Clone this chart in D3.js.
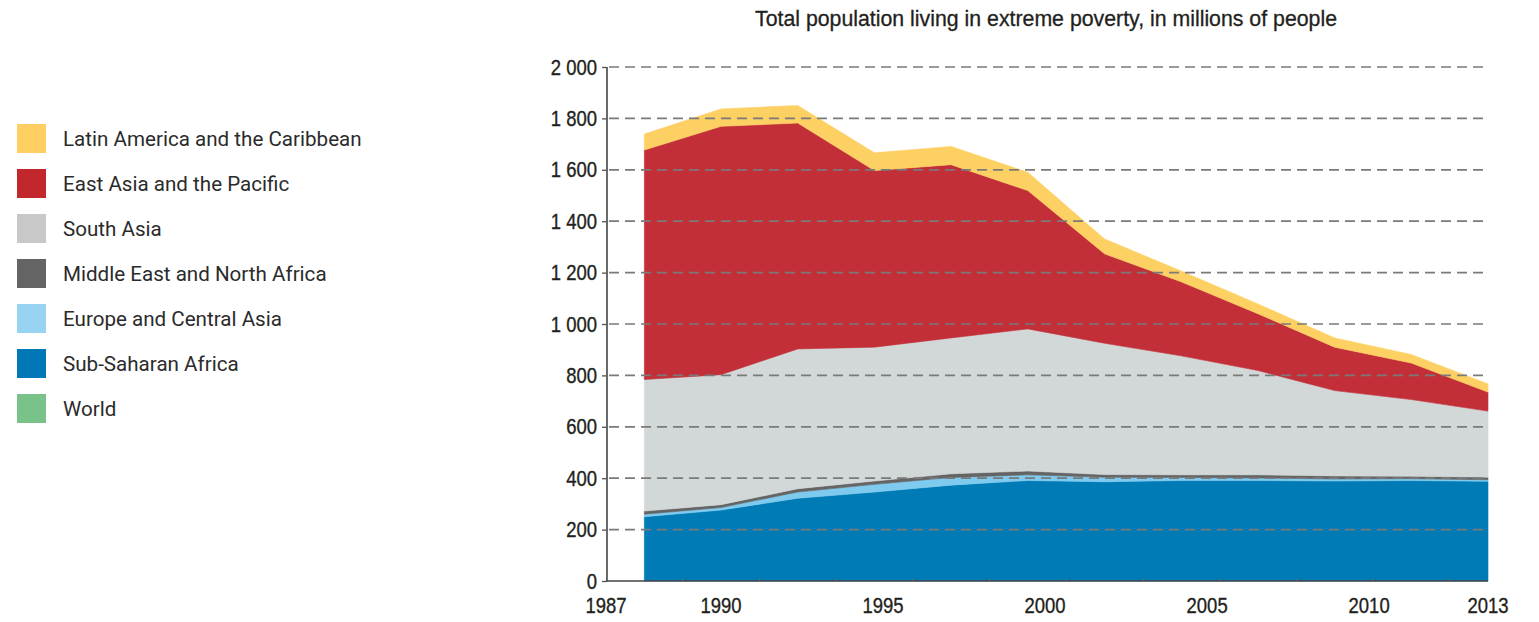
<!DOCTYPE html>
<html>
<head>
<meta charset="utf-8">
<script src="https://cdn.jsdelivr.net/npm/d3@7"></script>
<style>
  html, body { margin: 0; padding: 0; background: #ffffff; }
  svg { display: block; }
</style>
</head>
<body>
<svg id="chart" width="1539" height="622"></svg>
<script>
// ---- data ----
const years = [1987, 1990, 1993, 1996, 1999, 2002, 2005, 2008, 2010, 2011, 2012, 2013];
const subSaharanAfrica   = [250, 276, 322, 346, 373, 391, 386, 391, 391, 389, 391, 388];
const europeCentralAsia  = [10, 10, 24, 30, 30, 22, 18, 12, 10, 8, 7, 6];
const middleEastNAfrica  = [12, 11, 13, 13, 14, 15, 10, 10, 12, 12, 10, 10];
const southAsia          = [512, 506, 544, 521, 529, 553, 511, 463, 406, 332, 298, 257];
const eastAsiaPacific    = [893, 966, 879, 687, 674, 538, 348, 288, 221, 169, 142, 74];
const latinAmerica       = [62, 68, 68, 69, 71, 71, 58, 42, 38, 36, 33, 32];
const yTicks = [0, 200, 400, 600, 800, 1000, 1200, 1400, 1600, 1800, 2000];
const xTickLabels = [1987, 1990, 1995, 2000, 2005, 2010, 2013];
const legendItems = ["Latin America and the Caribbean", "East Asia and the Pacific", "South Asia",
  "Middle East and North Africa", "Europe and Central Asia", "Sub-Saharan Africa", "World"];
const legendColors = ["#FFD061", "#C3272E", "#C8C8C8", "#646464", "#98D3F1", "#0077B6", "#79C28A"];
const titleText = "Total population living in extreme poverty, in millions of people";

(function () {
const svg = d3.select("#chart");
const mLeft = 606, mRight = 1488, mTop = 67, mBottom = 581;
const NARROW = "'Liberation Sans', Arial, sans-serif";
const SX = 0.86;

const xi = d3.scaleLinear().domain([-0.5, years.length - 1]).range([mLeft, mRight]);
const y = d3.scaleLinear().domain([0, 2000]).range([mBottom, mTop]);
// label placement scale (labels are not aligned with data points in the original)
const xLabel = d3.scaleLinear().domain([1987, 1990, 2010, 2013])
  .range([xi(-0.5), xi(1), xi(9.45), xi(years.length - 1)]);

const keys = ["ssa", "eca", "mena", "sa", "eap", "lac"];
const areaColors = {ssa: "#007BB6", eca: "#7FCBEF", mena: "#646464", sa: "#D2D7D7", eap: "#C22F38", lac: "#FDD063"};
const table = years.map((yr, i) => ({
  i, year: yr,
  ssa: subSaharanAfrica[i], eca: europeCentralAsia[i], mena: middleEastNAfrica[i],
  sa: southAsia[i], eap: eastAsiaPacific[i], lac: latinAmerica[i]
}));
const series = d3.stack().keys(keys)(table);

const area = d3.area()
  .x(d => xi(d.data.i))
  .y0(d => y(d[0]))
  .y1(d => y(d[1]));

svg.append("g").selectAll("path").data(series).join("path")
  .attr("d", area)
  .attr("fill", d => areaColors[d.key])
  .attr("stroke", d => areaColors[d.key])
  .attr("stroke-width", 0.6);

// gridlines (dashed, on top)
svg.append("g").selectAll("line").data(yTicks.filter(t => t > 0)).join("line")
  .attr("x1", mLeft + 3).attr("x2", mRight)
  .attr("y1", d => y(d)).attr("y2", d => y(d))
  .attr("stroke", "#7A7A7A").attr("stroke-width", 1.7)
  .attr("stroke-dasharray", "10,6");

// y axis
const yAxis = d3.axisLeft(y).tickValues(yTicks).tickSize(5).tickPadding(5)
  .tickFormat(() => "");
const gy = svg.append("g").attr("transform", `translate(${mLeft + 1},0)`).call(yAxis);
gy.select(".domain").attr("stroke", "#444").attr("stroke-width", 1.6).attr("d", `M0,${mTop}V${mBottom}`);
gy.selectAll(".tick line").attr("stroke", "#555").attr("stroke-width", 1.3);

const fmt = d => d3.format(",")(d).replace(",", " ");
svg.append("g").selectAll("text").data(yTicks).join("text")
  .attr("transform", d => `translate(597,${y(d) + 7.5}) scale(${SX},1)`)
  .attr("text-anchor", "end")
  .attr("font-family", NARROW).attr("font-size", 21.5).attr("fill", "#231F20")
  .attr("stroke", "#231F20").attr("stroke-width", 0.35)
  .text(fmt);

// x axis line and category ticks
svg.append("line").attr("x1", mLeft).attr("x2", mRight).attr("y1", mBottom).attr("y2", mBottom)
  .attr("stroke", "#444").attr("stroke-width", 1.6);
svg.append("g").selectAll("line").data(d3.range(0, years.length - 1)).join("line")
  .attr("x1", d => xi(d + 0.5)).attr("x2", d => xi(d + 0.5))
  .attr("y1", mBottom).attr("y2", mBottom - 3)
  .attr("stroke", "#666").attr("stroke-width", 1);

svg.append("g").selectAll("text").data(xTickLabels).join("text")
  .attr("transform", d => `translate(${xLabel(d)},613) scale(${SX},1)`)
  .attr("text-anchor", "middle")
  .attr("font-family", NARROW).attr("font-size", 21.5).attr("fill", "#231F20")
  .attr("stroke", "#231F20").attr("stroke-width", 0.35)
  .text(d => d);

// title
svg.append("text")
  .attr("x", 755).attr("y", 26)
  .attr("font-family", NARROW).attr("font-size", 21.5).attr("fill", "#231F20")
  .attr("stroke", "#231F20").attr("stroke-width", 0.3)
  .attr("textLength", 582).attr("lengthAdjust", "spacingAndGlyphs")
  .text(titleText);

// legend
const lg = svg.append("g").selectAll("g").data(legendItems).join("g")
  .attr("transform", (d, i) => `translate(17,${124 + i * 45})`);
lg.append("rect").attr("width", 29).attr("height", 29)
  .attr("fill", (d, i) => legendColors[i]);
lg.append("text").attr("x", 46).attr("y", 22)
  .attr("font-family", "Roboto, 'Noto Sans', sans-serif")
  .attr("font-size", 20.6).attr("fill", "#2B2B2B").text(d => d);
})();
</script>
</body>
</html>
